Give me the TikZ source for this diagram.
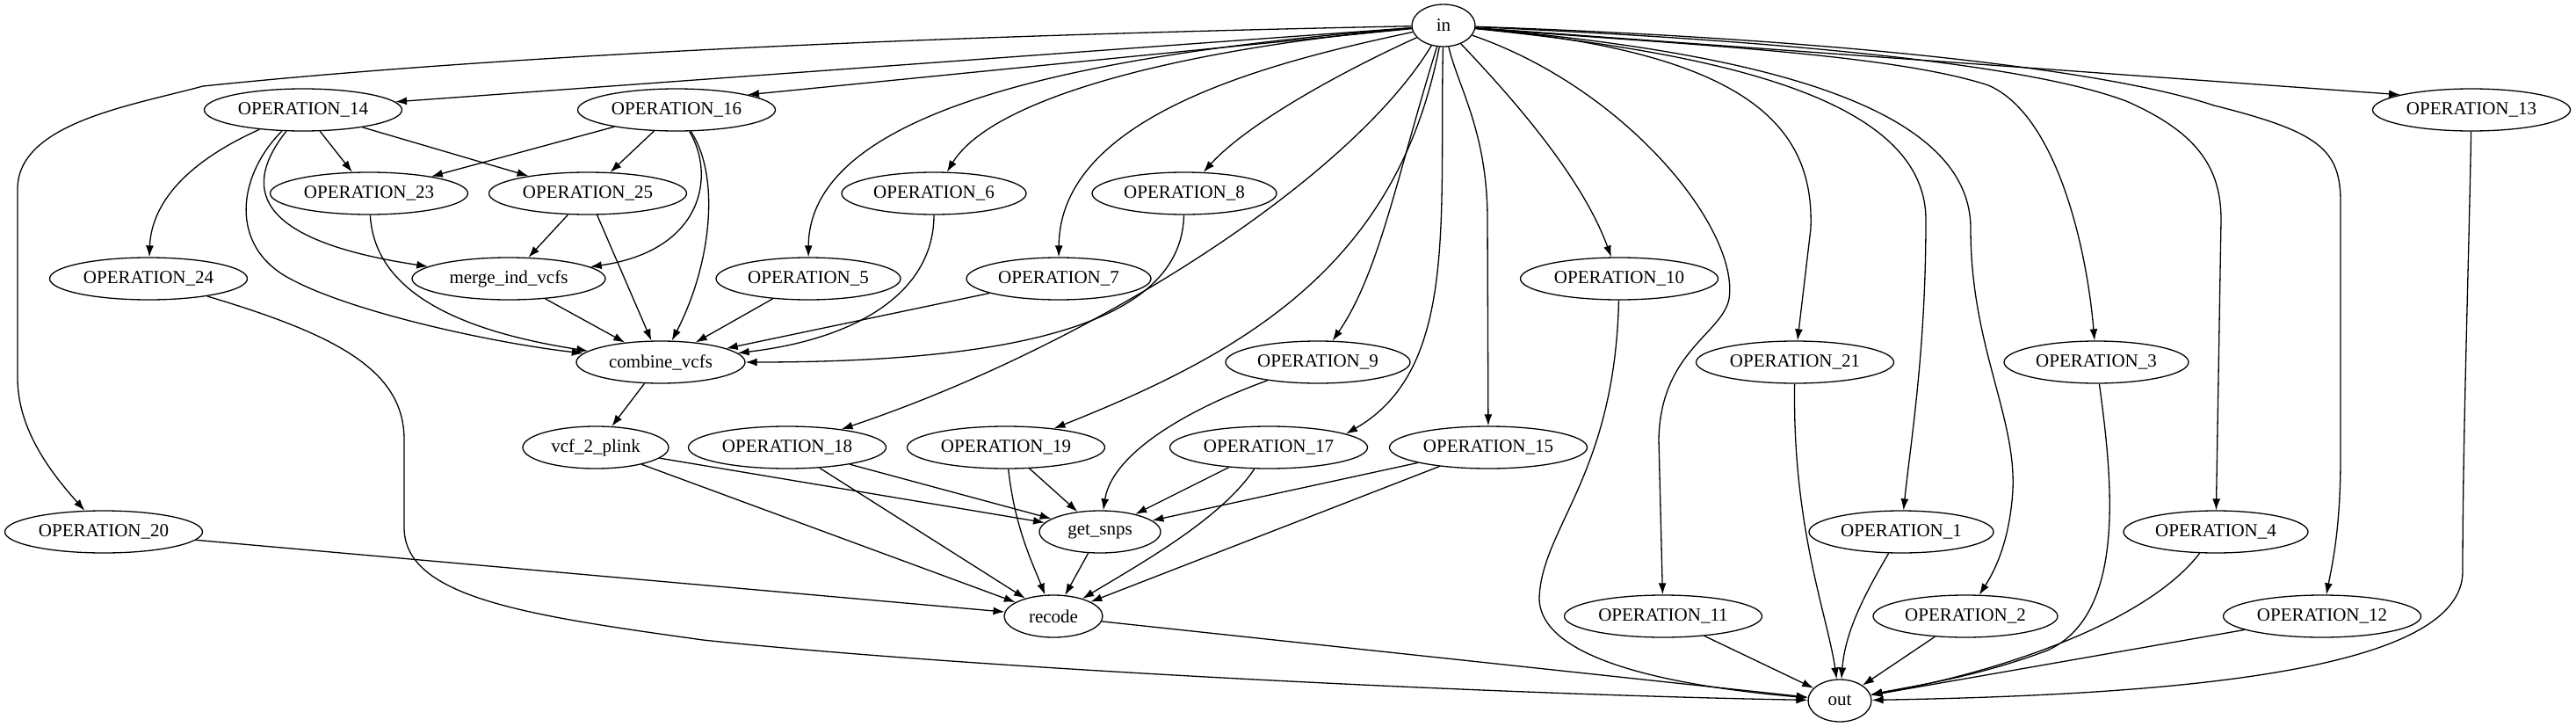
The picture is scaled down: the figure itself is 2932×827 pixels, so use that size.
\documentclass[tikz,border=0pt]{standalone}
\usepackage{fontspec}
\setmainfont{Liberation Serif}
\usetikzlibrary{arrows.meta,shapes.geometric}

\begin{document}
\begin{tikzpicture}[x=1pt,y=-1pt,line width=1.3pt,>={Latex[length=13pt,width=9pt]},
  font=\fontsize{21}{25}\selectfont,
  op/.style={draw,ellipse,inner sep=0pt,minimum width=225pt,minimum height=48pt},
  ops/.style={op,minimum width=210pt}]
  \useasboundingbox (0,0) rectangle (2932,827);
  % ranks, top to bottom
  \node[op,minimum width=72pt] (in) at (1643,29) {in};
  \node[op] (o14) at (345,125) {OPERATION\_14};
  \node[op] (o16) at (770,125) {OPERATION\_16};
  \node[op] (o13) at (2813,125) {OPERATION\_13};
  \node[op] (o23) at (420,220) {OPERATION\_23};
  \node[op] (o25) at (669,220) {OPERATION\_25};
  \node[ops] (o6) at (1063,220) {OPERATION\_6};
  \node[ops] (o8) at (1348,220) {OPERATION\_8};
  \node[op] (o24) at (169,317) {OPERATION\_24};
  \node[op,minimum width=220pt] (merge) at (579,317) {merge\_ind\_vcfs};
  \node[ops] (o5) at (920,317) {OPERATION\_5};
  \node[ops] (o7) at (1205,317) {OPERATION\_7};
  \node[op] (o10) at (1843,317) {OPERATION\_10};
  \node[op,minimum width=192pt] (combine) at (752,412) {combine\_vcfs};
  \node[ops] (o9) at (1500,412) {OPERATION\_9};
  \node[op] (o21) at (2043,412) {OPERATION\_21};
  \node[ops] (o3) at (2386,412) {OPERATION\_3};
  \node[op,minimum width=166pt] (vcf) at (678,509) {vcf\_2\_plink};
  \node[op] (o18) at (896,509) {OPERATION\_18};
  \node[op] (o19) at (1145,509) {OPERATION\_19};
  \node[op] (o17) at (1444,509) {OPERATION\_17};
  \node[op] (o15) at (1694,509) {OPERATION\_15};
  \node[op] (o20) at (118,605) {OPERATION\_20};
  \node[op,minimum width=138pt] (snps) at (1252,605) {get\_snps};
  \node[ops] (o1) at (2164,605) {OPERATION\_1};
  \node[ops] (o4) at (2522,605) {OPERATION\_4};
  \node[op,minimum width=112pt] (recode) at (1199,701) {recode};
  \node[op] (o11) at (1893,701) {OPERATION\_11};
  \node[ops] (o2) at (2237,701) {OPERATION\_2};
  \node[op] (o12) at (2643,701) {OPERATION\_12};
  \node[op,minimum width=72pt] (out) at (2094,797) {out};
  % edges out of in
  \draw[->] (in) -- (o14.5);
  \draw[->] (in) .. controls (1100,40) and (600,60) .. (231,98) .. controls (150,120) and (20,140) .. (20,215) -- (20,430) .. controls (20,490) and (60,540) .. (o20);
  \draw[->] (in) -- (o16.12);
  \draw[->] (in) .. controls (1250,60) and (921,120) .. (o5);
  \draw[->] (in) .. controls (1350,55) and (1130,110) .. (o6);
  \draw[->] (in) .. controls (1450,70) and (1206,130) .. (o7);
  \draw[->] (in) .. controls (1530,80) and (1420,140) .. (o8);
  \draw[->] (in) .. controls (1540,200) and (1250,390) .. (o18);
  \draw[->] (in) .. controls (1590,300) and (1420,400) .. (o19);
  \draw[->] (in) .. controls (1590,200) and (1570,310) .. (o9);
  \draw[->] (in) .. controls (1638,250) and (1660,420) .. (o17.10);
  \draw[->] (in) .. controls (1660,100) and (1693,150) .. (1693,250) -- (o15);
  \draw[->] (in) .. controls (1720,110) and (1800,200) .. (o10);
  \draw[->] (in) .. controls (1850,100) and (1980,260) .. (1968,340) .. controls (1960,380) and (1890,400) .. (1888,500) -- (o11);
  \draw[->] (in) .. controls (2000,60) and (2065,150) .. (2061,260) -- (o21);
  \draw[->] (in) .. controls (1950,60) and (2192,110) .. (2192,250) .. controls (2192,400) and (2175,500) .. (o1);
  \draw[->] (in) .. controls (2000,60) and (2243,120) .. (2243,260) .. controls (2243,400) and (2300,480) .. (2290,570) .. controls (2285,620) and (2270,650) .. (o2);
  \draw[->] (in) .. controls (1900,50) and (2150,60) .. (2263,97) .. controls (2340,130) and (2375,280) .. (o3);
  \draw[->] (in) .. controls (2000,45) and (2300,70) .. (2420,115) .. controls (2500,150) and (2528,190) .. (2528,250) -- (o4);
  \draw[->] (in) .. controls (2100,45) and (2400,80) .. (2520,120) .. controls (2640,150) and (2664,170) .. (2664,230) -- (2664,520) .. controls (2664,600) and (2655,640) .. (o12);
  \draw[->] (in) -- (o13.168);
  % left block
  \draw[->] (o14) .. controls (200,190) and (172,240) .. (o24);
  \draw[->] (o14) -- (o23);
  \draw[->] (o14) -- (o25);
  \draw[->] (o14) .. controls (270,220) and (300,275) .. (merge);
  \draw[->] (o14) .. controls (270,200) and (260,280) .. (330,317) .. controls (400,355) and (560,390) .. (combine);
  \draw[->] (o16) -- (o23);
  \draw[->] (o16) -- (o25);
  \draw[->] (o16) .. controls (815,200) and (800,285) .. (merge);
  \draw[->] (o16) .. controls (820,200) and (810,300) .. (combine);
  \draw[->] (o23) .. controls (425,310) and (480,370) .. (combine);
  \draw[->] (o25) -- (merge);
  \draw[->] (o25) -- (combine);
  \draw[->] (merge) -- (combine);
  \draw[->] (o5) -- (combine);
  \draw[->] (o6) .. controls (1063,330) and (980,385) .. (combine);
  \draw[->] (o7) -- (combine);
  \draw[->] (o8) .. controls (1345,370) and (1150,412) .. (combine);
  \draw[->] (combine) -- (vcf);
  \draw[->] (o24) .. controls (380,380) and (460,420) .. (460,500) -- (460,600) .. controls (460,680) and (600,700) .. (800,728) .. controls (1100,760) and (1700,790) .. (out);
  % middle block
  \draw[->] (vcf) -- (snps);
  \draw[->] (vcf) -- (recode);
  \draw[->] (o18) -- (snps);
  \draw[->] (o18) -- (recode);
  \draw[->] (o19) -- (snps);
  \draw[->] (o19) .. controls (1155,600) and (1175,640) .. (recode);
  \draw[->] (o9) .. controls (1340,470) and (1265,520) .. (snps);
  \draw[->] (o17) -- (snps);
  \draw[->] (o17) .. controls (1390,590) and (1300,640) .. (recode);
  \draw[->] (o15) -- (snps);
  \draw[->] (o15) -- (recode);
  \draw[->] (snps) -- (recode);
  \draw[->] (o20) -- (recode);
  \draw[->] (recode) -- (out);
  % into out
  \draw[->] (o10) .. controls (1838,540) and (1755,600) .. (1752,680) .. controls (1752,750) and (1900,780) .. (out);
  \draw[->] (o11) -- (out);
  \draw[->] (o21) .. controls (2040,600) and (2080,700) .. (out);
  \draw[->] (o1) .. controls (2120,680) and (2100,720) .. (out);
  \draw[->] (o2) -- (out);
  \draw[->] (o3) .. controls (2405,550) and (2420,700) .. (2330,740) .. controls (2250,770) and (2180,780) .. (out);
  \draw[->] (o4) .. controls (2450,700) and (2300,760) .. (out);
  \draw[->] (o12) -- (out);
  \draw[->] (o13) .. controls (2810,300) and (2803,500) .. (2803,650) .. controls (2803,760) and (2500,790) .. (out);
\end{tikzpicture}
\end{document}
